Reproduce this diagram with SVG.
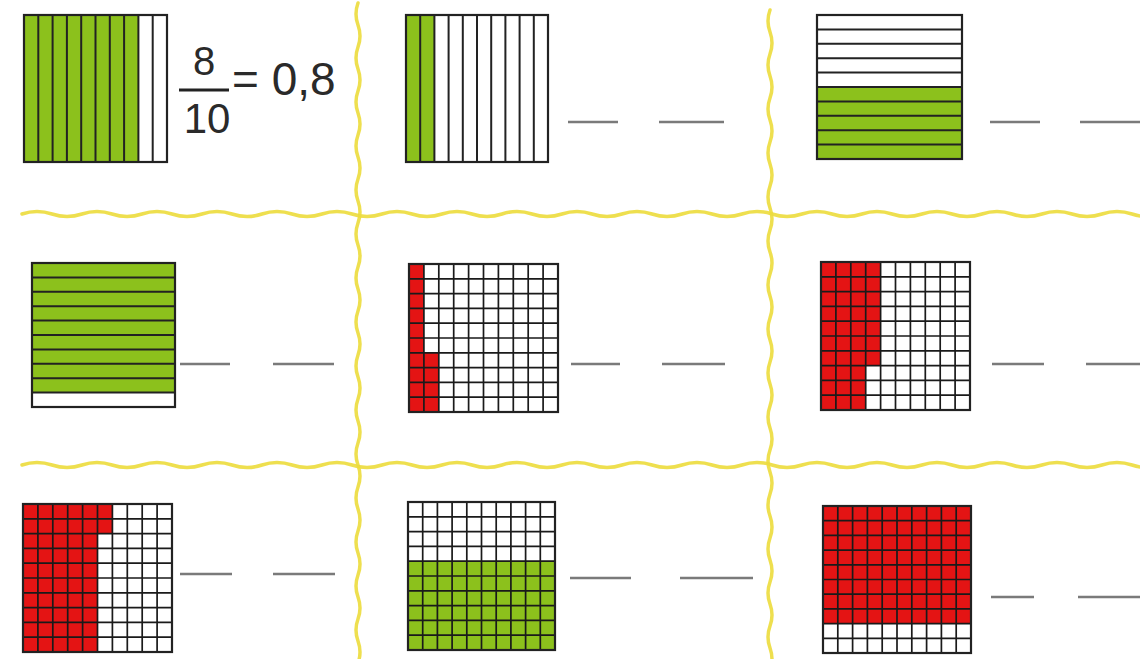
<svg xmlns="http://www.w3.org/2000/svg" width="1140" height="659" viewBox="0 0 1140 659">
<style>
.wave{fill:none;stroke:#ecdc3c;stroke-width:3.5;stroke-linecap:round;opacity:0.9}
.frame{fill:none;stroke:#222;stroke-width:2.2}
.ln{fill:none;stroke:#222;stroke-width:2}
.gl{fill:none;stroke:#1a1a1a;stroke-width:1.7}
.g{fill:#8cc11c}
.r{fill:#e41414}
.w{fill:#fff}
.dash{stroke:#7a7a7a;stroke-width:2.4}
.t{font-family:"Liberation Sans",Arial,sans-serif;fill:#2a2a2a}
</style>
<rect width="1140" height="659" fill="#fff"/>
<g id="dividers">
<path class="wave" d="M22,214 q15,-5 30,0 t30,0 t30,0 t30,0 t30,0 t30,0 t30,0 t30,0 t30,0 t30,0 t30,0 t30,0 t30,0 t30,0 t30,0 t30,0 t30,0 t30,0 t30,0 t30,0 t30,0 t30,0 t30,0 t30,0 t30,0 t30,0 t30,0 t30,0 t30,0 t30,0 t30,0 t30,0 t30,0 t30,0 t30,0 t30,0 t30,0 t30,0"/>
<path class="wave" d="M22,465 q15,-5 30,0 t30,0 t30,0 t30,0 t30,0 t30,0 t30,0 t30,0 t30,0 t30,0 t30,0 t30,0 t30,0 t30,0 t30,0 t30,0 t30,0 t30,0 t30,0 t30,0 t30,0 t30,0 t30,0 t30,0 t30,0 t30,0 t30,0 t30,0 t30,0 t30,0 t30,0 t30,0 t30,0 t30,0 t30,0 t30,0 t30,0 t30,0"/>
<path class="wave" d="M358,3 q-4,11 0,22 t0,22 t0,22 t0,22 t0,22 t0,22 t0,22 t0,22 t0,22 t0,22 t0,22 t0,22 t0,22 t0,22 t0,22 t0,22 t0,22 t0,22 t0,22 t0,22 t0,22 t0,22 t0,22 t0,22 t0,22 t0,22 t0,22 t0,22 t0,22 t0,22 t0,22"/>
<path class="wave" d="M770,10 q-4,11 0,22 t0,22 t0,22 t0,22 t0,22 t0,22 t0,22 t0,22 t0,22 t0,22 t0,22 t0,22 t0,22 t0,22 t0,22 t0,22 t0,22 t0,22 t0,22 t0,22 t0,22 t0,22 t0,22 t0,22 t0,22 t0,22 t0,22 t0,22 t0,22 t0,22 t0,22"/>
</g>
<g id="sq1">
<rect class="w" x="24" y="15" width="143" height="147"/>
<rect class="g" x="24" y="15" width="114.4" height="147"/>
<path class="ln" d="M38.3,15V162M52.6,15V162M66.9,15V162M81.2,15V162M95.5,15V162M109.8,15V162M124.1,15V162M138.4,15V162M152.7,15V162"/>
<rect class="frame" x="24" y="15" width="143" height="147"/>
<text class="t" x="204" y="75" font-size="40" text-anchor="middle">8</text>
<line x1="179" y1="90" x2="229" y2="90" stroke="#222" stroke-width="3"/>
<text class="t" x="207" y="133" font-size="42" text-anchor="middle">10</text>
<text class="t" x="232" y="95" font-size="46">= 0,8</text>
</g>
<g id="sq2">
<rect class="w" x="406" y="15" width="142" height="147"/>
<rect class="g" x="406" y="15" width="28.4" height="147"/>
<path class="ln" d="M420.2,15V162M434.4,15V162M448.6,15V162M462.8,15V162M477,15V162M491.2,15V162M505.4,15V162M519.6,15V162M533.8,15V162"/>
<rect class="frame" x="406" y="15" width="142" height="147"/>
<line class="dash" x1="568" y1="122" x2="618" y2="122"/>
<line class="dash" x1="659" y1="122" x2="724" y2="122"/>
</g>
<g id="sq3">
<rect class="w" x="817" y="15" width="145" height="144"/>
<rect class="g" x="817" y="87" width="145" height="72"/>
<path class="ln" d="M817,29.4H962M817,43.8H962M817,58.2H962M817,72.6H962M817,87H962M817,101.4H962M817,115.8H962M817,130.2H962M817,144.6H962"/>
<rect class="frame" x="817" y="15" width="145" height="144"/>
<line class="dash" x1="990" y1="122" x2="1040" y2="122"/>
<line class="dash" x1="1080" y1="122" x2="1140" y2="122"/>
</g>
<g id="sq4">
<rect class="w" x="32" y="263" width="143" height="144"/>
<rect class="g" x="32" y="263" width="143" height="129.6"/>
<path class="ln" d="M32,277.4H175M32,291.8H175M32,306.2H175M32,320.6H175M32,335H175M32,349.4H175M32,363.8H175M32,378.2H175M32,392.6H175"/>
<rect class="frame" x="32" y="263" width="143" height="144"/>
<line class="dash" x1="180" y1="364" x2="230" y2="364"/>
<line class="dash" x1="273" y1="364" x2="334" y2="364"/>
</g>
<g id="sq5">
<rect class="w" x="409" y="264" width="149" height="148"/>
<rect class="r" x="409" y="264" width="14.9" height="148"/>
<rect class="r" x="423.9" y="352.8" width="14.9" height="59.2"/>
<path class="gl" d="M423.9,264V412M438.8,264V412M453.7,264V412M468.6,264V412M483.5,264V412M498.4,264V412M513.3,264V412M528.2,264V412M543.1,264V412M409,278.8H558M409,293.6H558M409,308.4H558M409,323.2H558M409,338H558M409,352.8H558M409,367.6H558M409,382.4H558M409,397.2H558"/>
<rect class="frame" x="409" y="264" width="149" height="148"/>
<line class="dash" x1="571" y1="364" x2="620" y2="364"/>
<line class="dash" x1="662" y1="364" x2="725" y2="364"/>
</g>
<g id="sq6">
<rect class="w" x="821" y="262" width="149" height="148"/>
<rect class="r" x="821" y="262" width="44.7" height="148"/>
<rect class="r" x="865.7" y="262" width="14.9" height="103.6"/>
<path class="gl" d="M835.9,262V410M850.8,262V410M865.7,262V410M880.6,262V410M895.5,262V410M910.4,262V410M925.3,262V410M940.2,262V410M955.1,262V410M821,276.8H970M821,291.6H970M821,306.4H970M821,321.2H970M821,336H970M821,350.8H970M821,365.6H970M821,380.4H970M821,395.2H970"/>
<rect class="frame" x="821" y="262" width="149" height="148"/>
<line class="dash" x1="992" y1="364" x2="1044" y2="364"/>
<line class="dash" x1="1086" y1="364" x2="1140" y2="364"/>
</g>
<g id="sq7">
<rect class="w" x="23" y="504" width="149" height="148"/>
<rect class="r" x="23" y="504" width="74.5" height="148"/>
<rect class="r" x="97.5" y="504" width="14.9" height="29.6"/>
<path class="gl" d="M37.9,504V652M52.8,504V652M67.7,504V652M82.6,504V652M97.5,504V652M112.4,504V652M127.3,504V652M142.2,504V652M157.1,504V652M23,518.8H172M23,533.6H172M23,548.4H172M23,563.2H172M23,578H172M23,592.8H172M23,607.6H172M23,622.4H172M23,637.2H172"/>
<rect class="frame" x="23" y="504" width="149" height="148"/>
<line class="dash" x1="180" y1="574" x2="232" y2="574"/>
<line class="dash" x1="273" y1="574" x2="335" y2="574"/>
</g>
<g id="sq8">
<rect class="w" x="408" y="502" width="147" height="148"/>
<rect class="g" x="408" y="561.2" width="147" height="88.8"/>
<path class="gl" d="M422.7,502V650M437.4,502V650M452.1,502V650M466.8,502V650M481.5,502V650M496.2,502V650M510.9,502V650M525.6,502V650M540.3,502V650M408,516.8H555M408,531.6H555M408,546.4H555M408,561.2H555M408,576H555M408,590.8H555M408,605.6H555M408,620.4H555M408,635.2H555"/>
<rect class="frame" x="408" y="502" width="147" height="148"/>
<line class="dash" x1="570" y1="578" x2="631" y2="578"/>
<line class="dash" x1="680" y1="578" x2="753" y2="578"/>
</g>
<g id="sq9">
<rect class="w" x="823" y="506" width="148" height="147"/>
<rect class="r" x="823" y="506" width="148" height="117.6"/>
<path class="gl" d="M837.8,506V653M852.6,506V653M867.4,506V653M882.2,506V653M897,506V653M911.8,506V653M926.6,506V653M941.4,506V653M956.2,506V653M823,520.7H971M823,535.4H971M823,550.1H971M823,564.8H971M823,579.5H971M823,594.2H971M823,608.9H971M823,623.6H971M823,638.3H971"/>
<rect class="frame" x="823" y="506" width="148" height="147"/>
<line class="dash" x1="991" y1="597" x2="1034" y2="597"/>
<line class="dash" x1="1078" y1="597" x2="1140" y2="597"/>
</g>
</svg>
